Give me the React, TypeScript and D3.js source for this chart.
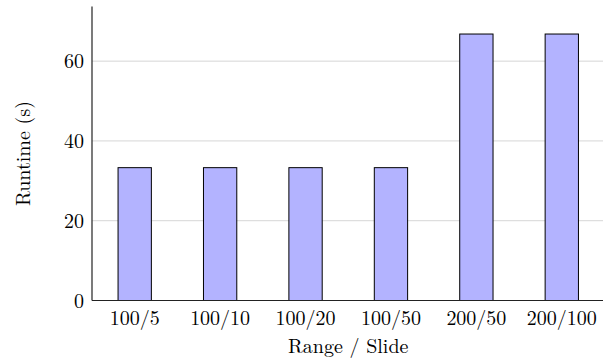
import React from "react";
import * as d3 from "d3";

const categories = ["100/5", "100/10", "100/20", "100/50", "200/50", "200/100"];
const runtimes = [33.3, 33.3, 33.3, 33.3, 66.8, 66.8];
const yTicks = [0, 20, 40, 60];
const xLabel = "Range / Slide";
const yLabel = "Runtime (s)";

const W = 603;
const H = 363;
const left = 92;
const right = 604.5;
const bottom = 300.5;
const top = 6.5;
const FONT = "'Latin Modern Roman', 'Liberation Serif', 'DejaVu Serif', serif";

export default function App() {
  const x = d3
    .scaleBand<string>()
    .domain(categories)
    .range([left, right])
    .paddingInner(0.61)
    .paddingOuter(0.305);
  const y = d3.scaleLinear().domain([0, 73.7]).range([bottom, top]);

  return (
    <svg
      width={W}
      height={H}
      viewBox={`0 0 ${W} ${H}`}
      style={{ position: "absolute", left: 0, top: 0, background: "#fff" }}
      fontFamily={FONT}
    >
      {/* horizontal grid */}
      {yTicks
        .filter((t) => t > 0)
        .map((t) => (
          <line
            key={`g${t}`}
            x1={left}
            x2={W}
            y1={y(t)}
            y2={y(t)}
            stroke="#d6d6d6"
            strokeWidth={1}
          />
        ))}
      {/* bars */}
      {categories.map((c, i) => (
        <rect
          key={c}
          x={x(c)}
          y={y(runtimes[i])}
          width={x.bandwidth()}
          height={bottom - y(runtimes[i])}
          fill="#b3b3ff"
          stroke="#000"
          strokeWidth={1}
        />
      ))}
      {/* axes */}
      <line x1={left} x2={left} y1={top} y2={bottom} stroke="#222" strokeWidth={1.2} />
      <line x1={left} x2={W} y1={bottom} y2={bottom} stroke="#222" strokeWidth={1.2} />
      {/* y tick labels */}
      {yTicks.map((t) => (
        <text
          key={`yt${t}`}
          x={84}
          y={y(t)}
          dy="0.35em"
          textAnchor="end"
          fontSize={20}
          fill="#000"
        >
          {t}
        </text>
      ))}
      {/* x tick labels */}
      {categories.map((c) => (
        <text
          key={`xt${c}`}
          x={(x(c) ?? 0) + x.bandwidth() / 2}
          y={318}
          dy="0.35em"
          textAnchor="middle"
          fontSize={20}
          fill="#000"
        >
          {c}
        </text>
      ))}
      <text
        x={(left + right) / 2}
        y={346}
        dy="0.35em"
        textAnchor="middle"
        fontSize={20}
        fill="#000"
      >
        {xLabel}
      </text>
      <text
        transform={`translate(23,${(top + bottom) / 2}) rotate(-90)`}
        dy="0.35em"
        textAnchor="middle"
        fontSize={20}
        fill="#000"
      >
        {yLabel}
      </text>
    </svg>
  );
}
